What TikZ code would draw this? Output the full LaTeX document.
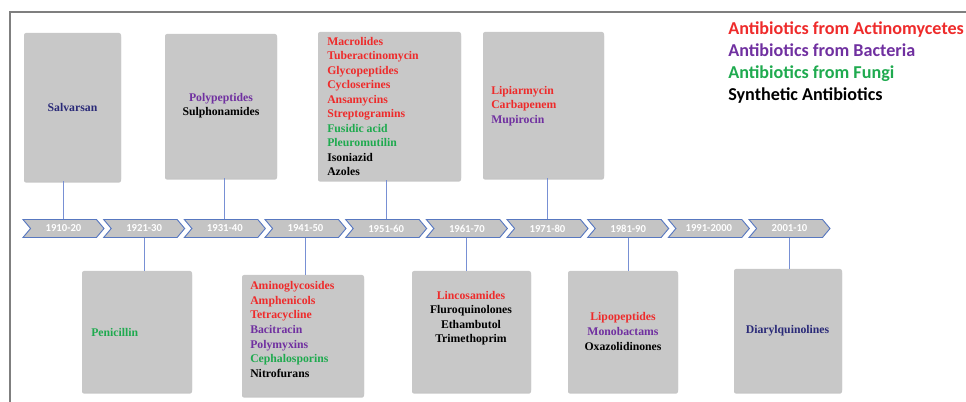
\documentclass[tikz,border=0pt]{standalone}
\usepackage{fontspec}
\setmainfont{Liberation Serif}
\newfontfamily\calibri{Carlito}
\usetikzlibrary{shapes.symbols,shadows,fit}
\definecolor{actino}{HTML}{EE2B2B}
\definecolor{bacteria}{HTML}{7030A0}
\definecolor{fungi}{HTML}{1FAA4F}
\definecolor{navy}{HTML}{2A2A78}
\definecolor{cardgray}{HTML}{C8C8C8}
\definecolor{decadefill}{HTML}{C4C4C4}
\definecolor{decadeline}{HTML}{5878C0}
\definecolor{linkblue}{HTML}{7890D4}
\definecolor{framegray}{HTML}{7F7F7F}

\begin{document}
\begin{tikzpicture}[x=0.75pt,y=-0.75pt,
  decade/.style={signal, signal from=west, signal to=east, signal pointer angle=100,
    fill=decadefill, draw=decadeline, line width=0.7pt, minimum width=60.75pt,
    minimum height=13.5pt, inner sep=0pt, text=white, font=\calibri\bfseries\fontsize{8}{9}\selectfont},
  card/.style={fill=cardgray, rounded corners=1.5pt, inner sep=0pt,
    drop shadow={shadow xshift=0pt, shadow yshift=-1.2pt, opacity=0.45}},
  entry/.style={inner sep=0pt, font=\bfseries\fontsize{8.8}{10.9}\selectfont},
  link/.style={draw=linkblue, line width=0.75pt}]
  \useasboundingbox (0,0) rectangle (966,402);

  % frame
  \draw[framegray, line width=1pt] (10,402) |- (966,12);

  % timeline
  \foreach \yr [count=\i] in {1910-20,1921-30,1931-40,1941-50,1951-60,1961-70,1971-80,1981-90,1991-2000,2001-10}
    \node[decade] (d\i) at ({63.5+80.67*(\i-1)},228.5) {\yr};

  % cards above the line
  \node[card, fit={(24,33) (121,181)}] (c1910) {};
  \node[card, fit={(165,34) (277,178)}] (c1931) {};
  \node[card, fit={(318,32) (461,180)}] (c1951) {};
  \node[card, fit={(483,32) (604,178)}] (c1971) {};

  % cards below the line
  \node[card, fit={(82,271) (192,392)}] (c1921) {};
  \node[card, fit={(242,275) (364,396)}] (c1941) {};
  \node[card, fit={(412,271) (531,392)}] (c1961) {};
  \node[card, fit={(568,271) (678,392)}] (c1981) {};
  \node[card, fit={(734,269) (842,392)}] (c2001) {};

  % connectors
  \draw[link] (c1910.south -| d1.north) -- (d1.north);
  \draw[link] (c1931.south -| d3.north) -- (d3.north);
  \draw[link] (c1951.south -| d5.north) -- (d5.north);
  \draw[link] (c1971.south -| d7.north) -- (d7.north);
  \draw[link] (d2.south) -- (d2.south |- c1921.north);
  \draw[link] (d4.south) -- (d4.south |- c1941.north);
  \draw[link] (d6.south) -- (d6.south |- c1961.north);
  \draw[link] (d8.south) -- (d8.south |- c1981.north);
  \draw[link] (d10.south) -- (d10.south |- c2001.north);

  % card texts
  \node[entry, text=navy] (t1910) at (72.5,107) {Salvarsan};
  \node[entry, align=center] (t1931) at (221,105.5)
    {\textcolor{bacteria}{Polypeptides}\\Sulphonamides};
  \node[entry, anchor=west, align=left] (t1951) at (327,106.5)
    {\textcolor{actino}{Macrolides}\\\textcolor{actino}{Tuberactinomycin}\\
     \textcolor{actino}{Glycopeptides}\\\textcolor{actino}{Cycloserines}\\
     \textcolor{actino}{Ansamycins}\\\textcolor{actino}{Streptogramins}\\
     \textcolor{fungi}{Fusidic acid}\\\textcolor{fungi}{Pleuromutilin}\\
     Isoniazid\\Azoles};
  \node[entry, anchor=west, align=left] (t1971) at (491,106)
    {\textcolor{actino}{Lipiarmycin}\\\textcolor{actino}{Carbapenem}\\
     \textcolor{bacteria}{Mupirocin}};
  \node[entry, anchor=west, text=fungi] (t1921) at (91,332) {Penicillin};
  \node[entry, anchor=west, align=left] (t1941) at (250,329.5)
    {\textcolor{actino}{Aminoglycosides}\\\textcolor{actino}{Amphenicols}\\
     \textcolor{actino}{Tetracycline}\\\textcolor{bacteria}{Bacitracin}\\
     \textcolor{bacteria}{Polymyxins}\\\textcolor{fungi}{Cephalosporins}\\
     Nitrofurans};
  \node[entry, align=center] (t1961) at (471,318)
    {\textcolor{actino}{Lincosamides}\\Fluroquinolones\\Ethambutol\\Trimethoprim};
  \node[entry, align=center] (t1981) at (623,331.5)
    {\textcolor{actino}{Lipopeptides}\\\textcolor{bacteria}{Monobactams}\\Oxazolidinones};
  \node[entry, text=navy] (t2001) at (787.5,331) {Diarylquinolines};

  % legend
  \node[anchor=west, align=left, inner sep=0pt,
    font=\calibri\bfseries\fontsize{13.6}{16.3}\selectfont] (legend) at (728,62.5)
    {\textcolor{actino}{Antibiotics from Actinomycetes}\\
     \textcolor{bacteria}{Antibiotics from Bacteria}\\
     \textcolor{fungi}{Antibiotics from Fungi}\\
     Synthetic Antibiotics};
\end{tikzpicture}
\end{document}
